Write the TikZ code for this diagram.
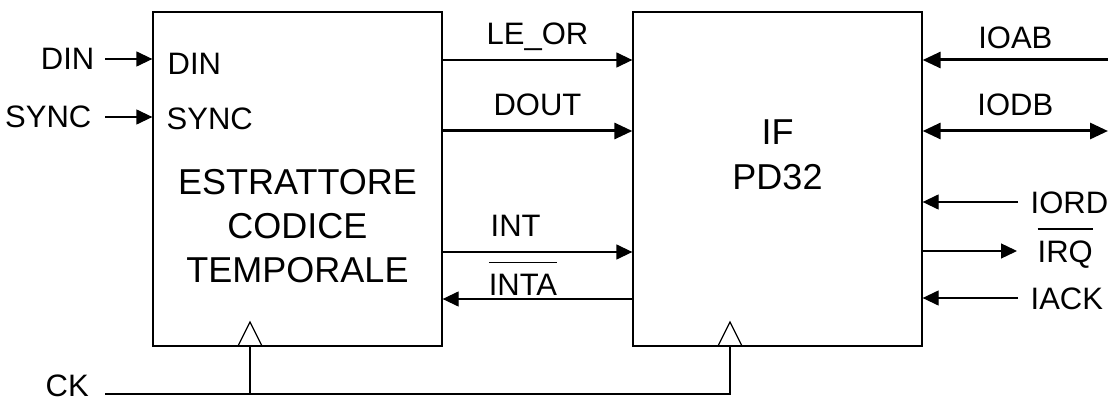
\documentclass[tikz,border=0pt]{standalone}
\usepackage{fontspec}
\setmainfont{Liberation Sans}
\usepackage{tikz}
\usetikzlibrary{arrows.meta}

% active-low signal name: bar drawn well above the capitals
\newcommand{\ovl}[1]{\setbox0=\hbox{#1}\rlap{\rule[32pt]{\wd0}{1.6pt}}\box0}

\tikzset{
  blk/.style={draw, line width=1.3pt, minimum width=289pt, minimum height=334pt, inner sep=0pt},
  lbl/.style={align=center, inner sep=0pt},
  sig/.style={font=\fontsize{31}{31}\selectfont, inner sep=0pt, text height=22pt, text depth=0pt},
  bus/.style={line width=3pt, >={Triangle[length=18pt,width=16pt]}},
}

\begin{document}
\begin{tikzpicture}[x=1pt, y=-1pt, line width=1.3pt, >={Triangle[length=16pt,width=15pt]}]
  \useasboundingbox (0,0) rectangle (1108,401);
  % ---------- the two blocks ----------
  \node[blk] (est) at (297.5,179) {};
  \node[blk] (pd) at (777.5,179) {};
  \node[lbl, font=\fontsize{36}{44}\selectfont] (estlbl) at (297.5,226) {ESTRATTORE\\CODICE\\TEMPORALE};
  \node[lbl, font=\fontsize{36}{45}\selectfont] (pdlbl) at (777.5,154.5) {IF\\PD32};
  % ---------- inputs of the extractor ----------
  \node[sig, anchor=east] (xdin) at (95,59) {DIN};
  \node[sig, anchor=east] (xsync) at (92,117) {SYNC};
  \node[sig, anchor=west] (idin) at (167,64) {DIN};
  \node[sig, anchor=west] (isync) at (166,118) {SYNC};
  \draw[->] ([xshift=10pt]xdin.east) -- (xdin -| est.west);
  \draw[->] ([xshift=13pt]xsync.east) -- (xsync -| est.west);
  % ---------- extractor <-> interface ----------
  \draw[->] (est.east |- 0,60) -- (pd.west |- 0,60)
    node[sig, midway, anchor=south, yshift=15pt] (leor) {LE\_OR};
  \draw[bus, ->] (est.east |- 0,131) -- (pd.west |- 0,131)
    node[sig, midway, anchor=south, yshift=14pt] (dout) {DOUT};
  \draw[->] (est.east |- 0,252) -- (pd.west |- 0,252)
    node[sig, pos=.25, anchor=south west, yshift=15pt] (int) {INT};
  \draw[->] (pd.west |- 0,299) -- (est.east |- 0,299)
    node[sig, pos=.76, anchor=south west, yshift=3pt] (inta) {\ovl{INTA}};
  % ---------- buses and lines of the interface ----------
  \coordinate (abend) at (1108,60);
  \coordinate (dbend) at (1108,131);
  \draw[bus, ->] (abend) -- (pd.east |- abend)
    node[sig, midway, anchor=south, yshift=10pt] (ioab) {IOAB};
  \draw[bus, <->] (pd.east |- dbend) -- (dbend)
    node[sig, midway, anchor=south, yshift=14pt] (iodb) {IODB};
  \node[sig, anchor=west] (iord) at (1030,202) {IORD};
  \node[sig, anchor=west] (irq) at (1037,251) {\ovl{IRQ}};
  \node[sig, anchor=west] (iack) at (1030,298) {IACK};
  \draw[->] ([xshift=-12pt]iord.west) -- (iord -| pd.east);
  \draw[->] (irq -| pd.east) -- ([xshift=-20pt]irq.west);
  \draw[->] ([xshift=-12pt]iack.west) -- (iack -| pd.east);
  % ---------- clock ----------
  \node[sig, anchor=west] (ck) at (45,385) {CK};
  \coordinate (ckin) at (105,394);
  \coordinate (ck1) at (250,346);
  \coordinate (ck2) at (730,346);
  \draw (ck1) ++(-12,0) -- ++(12,-24) -- ++(12,24);
  \draw (ck2) ++(-12,0) -- ++(12,-24) -- ++(12,24);
  \draw (ckin) -| (ck2);
  \draw (ck1) -- (ck1 |- ckin);
\end{tikzpicture}
\end{document}
